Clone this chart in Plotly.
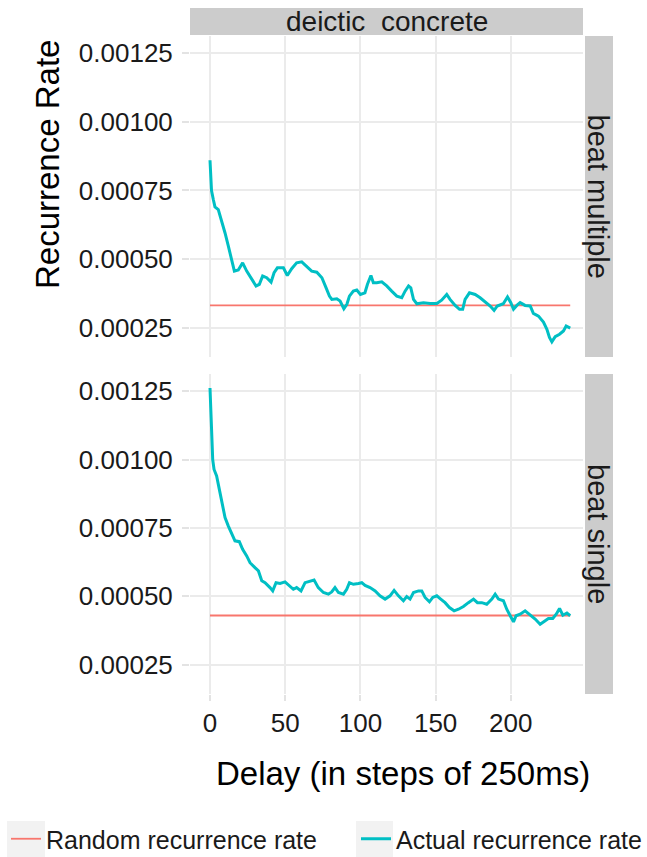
import plotly.graph_objects as go

# ---------------- data ----------------
delay_multiple = [0, 1, 2.2, 3.3, 5.5, 7.8, 10, 12.2, 14.4, 16.2, 18.8, 21.7, 24.4, 27.7, 30.6,
                  32.8, 35, 37.7, 40.6, 42.6, 44.8, 48.8, 51.4, 54.3, 57.6, 61, 64.3, 67.6, 71, 74.4,
                  77.2, 79.4, 81, 84.3, 86.5, 89, 91, 92.7, 95.3, 97.6, 100, 103, 104.7, 107, 108.6,
                  110.9, 114.2, 117.5, 120.8, 124.2, 127.5, 129.7, 132, 133.5, 135.3, 137.5, 141.9,
                  146.3, 150.8, 154, 157.4, 159.6, 163, 165.9, 168, 169.6, 172.5, 176.3, 179.6, 183,
                  186.3, 188.9, 191, 195, 197.8, 200, 201.8, 204, 206.2, 209.5, 212.9, 215, 218.4,
                  221.7, 224, 225.7, 227.3, 229.5, 232.4, 235, 236.8, 239.5]
actual_multiple = [0.000860, 0.000750, 0.000717, 0.000690, 0.000680, 0.000640, 0.000595, 0.000547,
                   0.000498, 0.000456, 0.000460, 0.000486, 0.000456, 0.000426, 0.000402, 0.000408,
                   0.000438, 0.000432, 0.000416, 0.000450, 0.000468, 0.000468, 0.000440, 0.000465,
                   0.000486, 0.000490, 0.000474, 0.000456, 0.000452, 0.000432, 0.000395, 0.000365,
                   0.000353, 0.000355, 0.000347, 0.000319, 0.000335, 0.000365, 0.000383, 0.000387,
                   0.000371, 0.000377, 0.000408, 0.000440, 0.000414, 0.000414, 0.000417, 0.000402,
                   0.000383, 0.000365, 0.000359, 0.000383, 0.000402, 0.000395, 0.000353, 0.000337,
                   0.000341, 0.000338, 0.000338, 0.000350, 0.000371, 0.000353, 0.000331, 0.000317,
                   0.000317, 0.000353, 0.000377, 0.000371, 0.000359, 0.000343, 0.000329, 0.000313,
                   0.000329, 0.000337, 0.000362, 0.000341, 0.000317, 0.000331, 0.000341, 0.000331,
                   0.000329, 0.000302, 0.000292, 0.000270, 0.000244, 0.000214, 0.000198, 0.000217,
                   0.000226, 0.000238, 0.000256, 0.000248]
random_multiple = 0.000331

delay_single = [0, 1.1, 1.8, 2.7, 4.4, 6.2, 7.8, 10, 12.2, 14.4, 16.6, 19.5, 21.7, 24.4, 26.6, 29.9,
                32.2, 34.4, 36.6, 39.9, 41.7, 43.9, 46.6, 49.9, 52.8, 55.4, 57.6, 60.5, 63.2, 66.5,
                69.2, 72, 75.4, 78.7, 80.9, 83.1, 85.4, 88.7, 90.9, 92.7, 95.3, 98.7, 100.9, 103.1,
                106.4, 109.8, 113, 116.4, 119.7, 122.4, 125.3, 128.6, 130.8, 133, 135.3, 138.6,
                140.8, 143, 145.9, 148.1, 150.8, 153.4, 156.3, 159.2, 162.3, 165.2, 168.5, 171.8,
                175.2, 177.8, 180.7, 184, 187.4, 189.6, 191.8, 195.1, 197.3, 199.6, 201.8, 203.5,
                206.2, 209.5, 212.9, 216.2, 219.5, 222.2, 225, 227.9, 230.2, 232.4, 234.6, 237.3, 239.5]
actual_single = [0.001262, 0.001122, 0.001000, 0.000964, 0.000940, 0.000891, 0.000842, 0.000788,
                 0.000757, 0.000733, 0.000703, 0.000700, 0.000672, 0.000648, 0.000623, 0.000605,
                 0.000593, 0.000557, 0.000550, 0.000532, 0.000520, 0.000550, 0.000547, 0.000553,
                 0.000538, 0.000526, 0.000532, 0.000520, 0.000550, 0.000557, 0.000560, 0.000532,
                 0.000514, 0.000508, 0.000516, 0.000532, 0.000514, 0.000508, 0.000526, 0.000550,
                 0.000544, 0.000547, 0.000550, 0.000540, 0.000532, 0.000520, 0.000502, 0.000490,
                 0.000502, 0.000522, 0.000502, 0.000484, 0.000499, 0.000490, 0.000514, 0.000520,
                 0.000520, 0.000496, 0.000480, 0.000496, 0.000502, 0.000490, 0.000477, 0.000459,
                 0.000447, 0.000453, 0.000463, 0.000477, 0.000490, 0.000477, 0.000477, 0.000471,
                 0.000490, 0.000508, 0.000490, 0.000484, 0.000453, 0.000429, 0.000407, 0.000429,
                 0.000435, 0.000447, 0.000433, 0.000417, 0.000398, 0.000408, 0.000419, 0.000419,
                 0.000435, 0.000456, 0.000431, 0.000439, 0.000429]
random_single = 0.000430

column_label = "deictic  concrete"
row_labels = ["beat multiple", "beat single"]
x_tickvals = [0, 50, 100, 150, 200]
x_ticktext = ["0", "50", "100", "150", "200"]
y_tickvals = [0.00025, 0.0005, 0.00075, 0.001, 0.00125]
y_ticktext = ["0.00025", "0.00050", "0.00075", "0.00100", "0.00125"]
legend_names = ["Random recurrence rate", "Actual recurrence rate"]

# ---------------- styling ----------------
W, H = 647, 857
RED = "#F8766D"
TEAL = "#00BFC4"
GRID = "#EBEBEB"
STRIP = "#CCCCCC"
TXT = "#1A1A1A"
FONT = "Liberation Sans, Arial, sans-serif"


def fx(p):
    return p / W


def fy(p):
    return 1 - p / H


PANEL_X = (190, 583)
PANELS_Y = [(36, 357), (374, 694)]

fig = go.Figure()

panels = [
    (delay_multiple, actual_multiple, random_multiple),
    (delay_single, actual_single, random_single),
]
for i, (dx, dy, rr) in enumerate(panels):
    xa = "x" if i == 0 else "x2"
    ya = "y" if i == 0 else "y2"
    fig.add_trace(go.Scatter(
        x=[dx[0], dx[-1]], y=[rr, rr], mode="lines",
        line=dict(color=RED, width=1.8), name=legend_names[0], legend="legend",
        showlegend=(i == 0), xaxis=xa, yaxis=ya, hoverinfo="skip"))
    fig.add_trace(go.Scatter(
        x=dx, y=dy, mode="lines",
        line=dict(color=TEAL, width=3), name=legend_names[1], legend="legend2",
        showlegend=(i == 0), xaxis=xa, yaxis=ya))

xcommon = dict(domain=[fx(PANEL_X[0]), fx(PANEL_X[1])], range=[-13.3, 248],
               tickvals=x_tickvals, ticktext=x_ticktext, showgrid=True,
               gridcolor=GRID, gridwidth=1.5, zeroline=False, showline=False)
ycommon = dict(range=[0.000143, 0.001313], tickvals=y_tickvals, ticktext=y_ticktext,
               showgrid=True, gridcolor=GRID, gridwidth=1.5, zeroline=False, showline=False,
               ticks="outside", ticklen=7, tickcolor="#E3E3E3", tickwidth=1.5,
               tickfont=dict(family=FONT, size=26, color=TXT), ticklabelstandoff=4)

legend_common = dict(orientation="h", xanchor="left", y=fy(839), yanchor="middle",
                     bgcolor="rgba(0,0,0,0)", font=dict(family=FONT, size=25, color=TXT))

fig.update_layout(
    width=W, height=H,
    margin=dict(l=0, r=0, t=0, b=0, autoexpand=False),
    paper_bgcolor="white", plot_bgcolor="white",
    xaxis=dict(anchor="y", showticklabels=False, ticks="", **xcommon),
    xaxis2=dict(anchor="y2", ticks="outside", ticklen=6, tickcolor="#E3E3E3", tickwidth=1.5,
                tickfont=dict(family=FONT, size=26, color=TXT), **xcommon),
    yaxis=dict(anchor="x", domain=[fy(PANELS_Y[0][1]), fy(PANELS_Y[0][0])], **ycommon),
    yaxis2=dict(anchor="x2", domain=[fy(PANELS_Y[1][1]), fy(PANELS_Y[1][0])], **ycommon),
    legend=dict(x=fx(6), **legend_common),
    legend2=dict(x=fx(356), **legend_common),
    showlegend=True,
)

shapes = []
# top strip
shapes.append(dict(type="rect", xref="paper", yref="paper",
                   x0=fx(190), x1=fx(583), y0=fy(35), y1=fy(8),
                   fillcolor=STRIP, line=dict(width=0), layer="below"))
# right strips
for (t, b) in PANELS_Y:
    shapes.append(dict(type="rect", xref="paper", yref="paper",
                       x0=fx(585), x1=fx(613), y0=fy(b), y1=fy(t),
                       fillcolor=STRIP, line=dict(width=0), layer="below"))
# legend key backgrounds
for (a, b) in [(7, 45), (356, 393)]:
    shapes.append(dict(type="rect", xref="paper", yref="paper",
                       x0=fx(a), x1=fx(b), y0=fy(857), y1=fy(821),
                       fillcolor="#F2F2F2", line=dict(width=0), layer="below"))
fig.update_layout(shapes=shapes)

annotations = [
    dict(text=column_label, x=fx(386.5), y=fy(22), xref="paper", yref="paper",
         showarrow=False, font=dict(family=FONT, size=28, color=TXT),
         xanchor="center", yanchor="middle"),
    dict(text="Recurrence Rate", x=fx(48), y=fy(165), xref="paper", yref="paper",
         showarrow=False, textangle=-90, font=dict(family=FONT, size=33, color="black"),
         xanchor="center", yanchor="middle"),
    dict(text="Delay (in steps of 250ms)", x=fx(403), y=fy(773), xref="paper", yref="paper",
         showarrow=False, font=dict(family=FONT, size=33, color="black"),
         xanchor="center", yanchor="middle"),
]
for (t, b), lab in zip(PANELS_Y, row_labels):
    annotations.append(dict(text=lab, x=fx(598), y=fy((t + b) / 2), xref="paper", yref="paper",
                            showarrow=False, textangle=90,
                            font=dict(family=FONT, size=29, color=TXT),
                            xanchor="center", yanchor="middle"))
fig.update_layout(annotations=annotations)

fig.write_html("out.html", config={"displayModeBar": False},
               post_script="document.body.style.margin='0';")
